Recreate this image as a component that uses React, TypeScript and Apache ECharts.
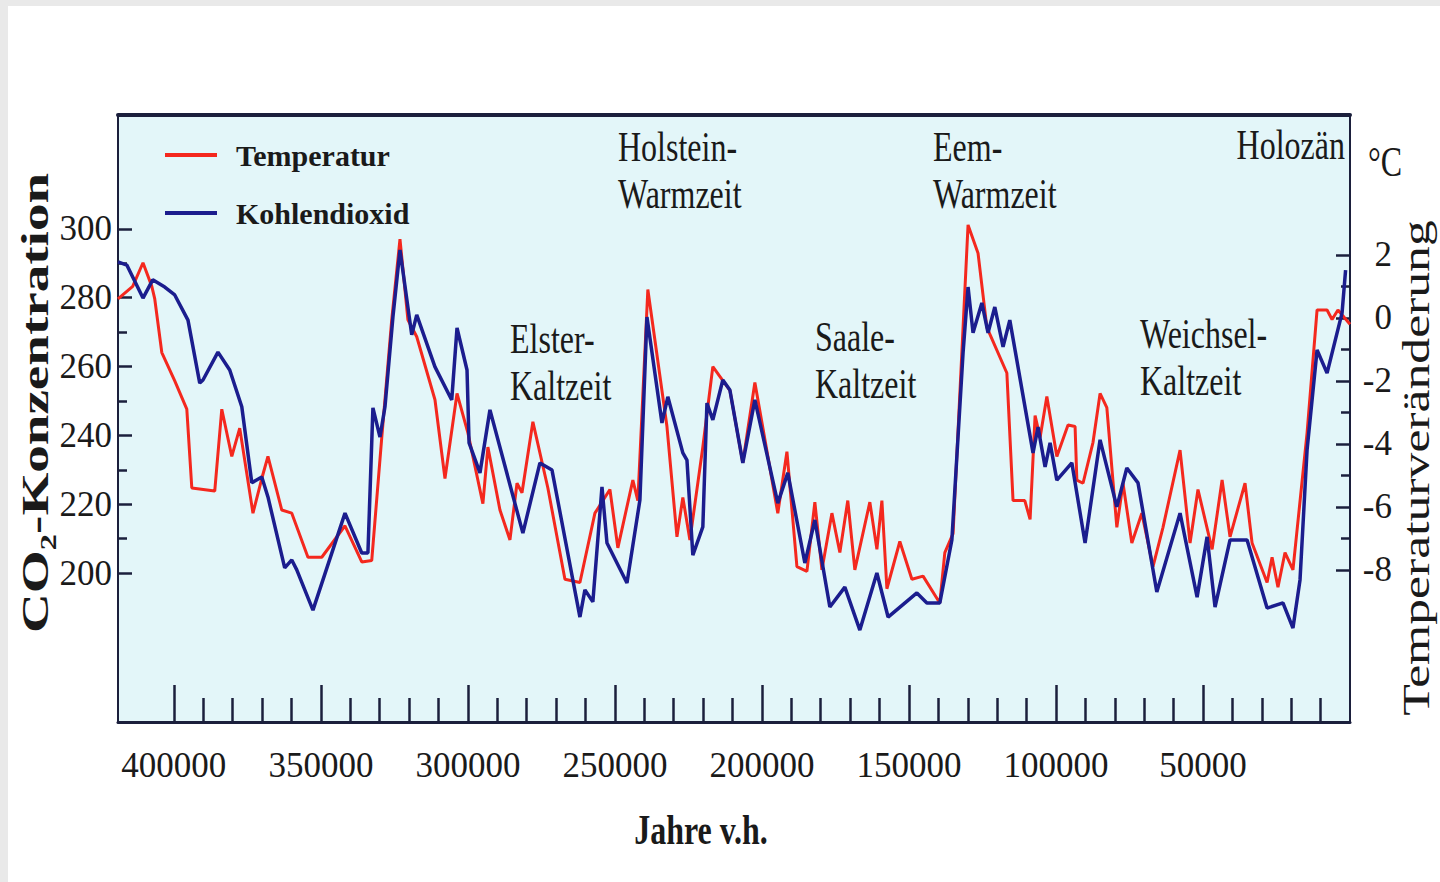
import React, { useEffect, useRef } from "react";
import * as echarts from "echarts";

// ---- data (years before present) ----
const co2Years = [
  419000, 416000, 410500, 407200, 403100, 399700, 395200, 391200, 390100, 385000,
  381000, 376900, 373500, 370100, 368000, 362300, 359900, 358200, 352700, 341800,
  336100, 334000, 332300, 329900, 328200, 325500, 323100, 319100, 317400, 311200,
  305500, 303700, 300300, 299600, 295900, 292500, 281300, 275500, 271400, 261900,
  260200, 257500, 254400, 252700, 245900, 241500, 239100, 234000, 232000, 226900,
  225500, 223500, 220100, 218700, 216700, 213300, 210900, 206500, 202400, 194600,
  191200, 185400, 182000, 176900, 171800, 166700, 160900, 157100, 147300, 143900,
  139500, 135400, 131600, 129900, 128200, 125200, 123100, 120800, 118000, 115700,
  107800, 106100, 103700, 102000, 99700, 94600, 90100, 85000, 79300, 75900,
  72100, 65700, 57800, 52000, 48600, 45900, 40800, 35000, 28200, 22800,
  19400, 17000, 14600, 11200, 7800, 2700, 1500,
];
const co2Ppm = [
  290.4, 289.5, 279.9, 285.2, 283.1, 280.8, 273.5, 255.2, 256.1, 264.2,
  259.0, 248.3, 226.2, 227.9, 222.1, 201.5, 203.8, 200.9, 189.2, 217.4,
  205.8, 205.8, 248.0, 239.5, 248.3, 274.4, 293.9, 269.2, 275.0, 259.9,
  250.3, 271.2, 259.0, 237.8, 229.1, 247.4, 211.6, 232.0, 229.9, 187.2,
  195.1, 191.6, 225.0, 208.7, 197.1, 221.2, 274.4, 243.6, 251.2, 234.9,
  232.8, 205.2, 213.4, 249.4, 244.5, 256.1, 253.2, 232.0, 250.3, 220.3,
  229.1, 202.9, 215.4, 190.1, 195.9, 183.4, 200.0, 187.2, 194.2, 191.3,
  191.3, 209.6, 264.0, 283.1, 269.8, 278.5, 269.8, 277.3, 265.7, 273.5,
  234.9, 242.4, 230.8, 237.8, 227.0, 232.0, 208.7, 238.7, 219.2, 230.5,
  226.2, 194.5, 217.4, 193.0, 210.5, 190.1, 209.6, 209.6, 189.8, 191.3,
  184.0, 198.0, 235.8, 264.8, 258.1, 275.6, 288.0,
];

const tempYears = [
  419000, 414000, 410500, 407500, 406500, 404100, 399700, 395600, 393900, 386100,
  383700, 380300, 377600, 373100, 370100, 368000, 363300, 359900, 354400, 349700,
  341800, 336100, 332700, 329300, 325900, 323100, 320400, 317400, 311200, 307800,
  303700, 300000, 294900, 293200, 289100, 285700, 283300, 281600, 277900, 272800,
  267000, 261900, 256800, 251700, 249000, 243900, 242200, 238800, 232300, 228900,
  226900, 224500, 220100, 216700, 213600, 210900, 206500, 202400, 194600, 191500,
  188100, 184700, 182000, 179600, 176200, 173500, 170800, 168400, 163300, 160900,
  159200, 157500, 153100, 149000, 145200, 139500, 137800, 135000, 129900, 126500,
  123500, 116700, 114600, 110600, 108800, 107100, 105400, 103100, 99700, 95900,
  93500, 92900, 90800, 87400, 85000, 82700, 79300, 77200, 74200, 70800,
  67000, 63600, 57800, 54400, 51700, 46900, 43500, 40800, 35700, 33300,
  28200, 26500, 24500, 22100, 19400, 14600, 11200, 7800, 6100, 4100,
  0,
];
const tempDelta = [
  0.6, 1.0, 1.75, 1.0, 0.6, -1.1, -2.0, -2.9, -5.4, -5.5,
  -2.9, -4.4, -3.5, -6.2, -5.1, -4.4, -6.1, -6.2, -7.6, -7.6,
  -6.6, -7.75, -7.7, -3.8, -0.06, 2.5, -0.06, -0.6, -2.6, -5.1,
  -2.4, -3.65, -5.9, -4.1, -6.1, -7.05, -5.25, -5.55, -3.3, -5.4,
  -8.3, -8.4, -6.2, -5.45, -7.3, -5.15, -5.8, 0.9, -3.45, -6.95,
  -5.7, -7.05, -4.1, -1.55, -1.95, -2.3, -4.6, -2.05, -6.2, -4.25,
  -7.9, -8.05, -5.85, -8.0, -6.2, -7.45, -5.8, -8.0, -5.85, -7.35,
  -5.8, -8.6, -7.1, -8.3, -8.2, -9.05, -7.45, -6.85, 2.95, 2.05,
  -0.3, -1.75, -5.8, -5.8, -6.4, -3.1, -3.8, -2.5, -4.4, -3.4,
  -3.45, -5.15, -5.25, -3.95, -2.4, -2.85, -6.65, -5.25, -7.15, -6.2,
  -7.9, -6.65, -4.2, -7.15, -5.45, -7.35, -5.15, -6.95, -5.25, -7.15,
  -8.4, -7.6, -8.55, -7.45, -8.0, -3.65, 0.25, 0.25, -0.05, 0.25,
  -0.2,
];

// ---- ticks ----
const xMajorTicks = [400000, 350000, 300000, 250000, 200000, 150000, 100000, 50000];
const xMinorTicks = [
  390000, 380000, 370000, 360000, 340000, 330000, 320000, 310000, 290000, 280000,
  270000, 260000, 240000, 230000, 220000, 210000, 190000, 180000, 170000, 160000,
  140000, 130000, 120000, 110000, 90000, 80000, 70000, 60000, 40000, 30000, 20000, 10000,
];
const co2MajorTicks = [200, 220, 240, 260, 280, 300];
const co2MinorTicks = [210, 230, 250, 270, 290];
const tempMajorTicks = [-8, -6, -4, -2, 0, 2];
const tempMinorTicks = [-7, -5, -3, -1, 1];

// ---- labels ----
const seriesNames = ["Temperatur", "Kohlendioxid"];
const periodLabels = [
  { text: "Holstein-\nWarmzeit", x: 618, y: 124 },
  { text: "Eem-\nWarmzeit", x: 933, y: 124 },
  { text: "Elster-\nKaltzeit", x: 510, y: 316 },
  { text: "Saale-\nKaltzeit", x: 815, y: 314 },
  { text: "Weichsel-\nKaltzeit", x: 1140, y: 311 },
];

const SERIF = "'Liberation Serif', 'Times New Roman', serif";
const INK = "#1a1a1a";
const FRAME = "#1b1f3c";
const RED = "#f4281e";
const BLUE = "#1b1d8e";

const X_MIN = 0;
const X_MAX = 419000;
const CO2_MIN = 156.7;
const CO2_MAX = 333.1;
const T_MIN = -12.83;
const T_MAX = 6.44;

export default function App() {
  const ref = useRef<HTMLDivElement>(null);

  useEffect(() => {
    if (!ref.current) return;
    const chart = echarts.init(ref.current, undefined, { renderer: "svg" });

    const co2Data = co2Years.map((y, i) => [y, co2Ppm[i]]);
    const tempData = tempYears.map((y, i) => [y, tempDelta[i]]);

    const xBase = {
      type: "value",
      min: X_MIN,
      max: X_MAX,
      inverse: true,
      gridIndex: 0,
      splitLine: { show: false },
    };
    const hidden = { show: false };
    const hiddenLine = { show: false, onZero: false };

    const graphics: any[] = [
      { type: "rect", shape: { x: 0, y: 0, width: 1440, height: 6 }, style: { fill: "#e9e9e9" }, silent: true },
      { type: "rect", shape: { x: 0, y: 0, width: 8, height: 882 }, style: { fill: "#e9e9e9" }, silent: true },
    ];
    periodLabels.forEach((p) => {
      graphics.push({
        type: "text",
        x: p.x,
        y: p.y,
        scaleY: 1.3,
        z: 10,
        style: {
          text: p.text,
          font: `32px ${SERIF}`,
          fill: INK,
          lineHeight: 36,
          align: "left",
          textAlign: "left",
          verticalAlign: "top",
          textVerticalAlign: "top",
        },
      });
    });
    graphics.push(
      {
        type: "text",
        x: 1345,
        y: 145,
        scaleY: 1.3,
        z: 10,
        style: {
          text: "Holozän",
          font: `32px ${SERIF}`,
          fill: INK,
          align: "right",
          textAlign: "right",
          verticalAlign: "middle",
          textVerticalAlign: "middle",
        },
      },
      {
        type: "text",
        x: 1368,
        y: 162,
        scaleY: 1.3,
        z: 10,
        style: {
          text: "°C",
          font: `32px ${SERIF}`,
          fill: INK,
          align: "left",
          textAlign: "left",
          verticalAlign: "middle",
          textVerticalAlign: "middle",
        },
      },
      {
        type: "text",
        x: 701,
        y: 830,
        scaleY: 1.3,
        z: 10,
        style: {
          text: "Jahre v.h.",
          font: `bold 32px ${SERIF}`,
          fill: INK,
          align: "center",
          textAlign: "center",
          verticalAlign: "middle",
          textVerticalAlign: "middle",
        },
      },
      {
        type: "text",
        x: 35,
        y: 403,
        rotation: Math.PI / 2,
        scaleX: 1.45,
        z: 10,
        style: {
          text: "CO₂-Konzentration",
          font: `bold 38px ${SERIF}`,
          fill: INK,
          align: "center",
          textAlign: "center",
          verticalAlign: "middle",
          textVerticalAlign: "middle",
        },
      },
      {
        type: "text",
        x: 1416,
        y: 468,
        rotation: Math.PI / 2,
        scaleX: 1.36,
        z: 10,
        style: {
          text: "Temperaturveränderung",
          font: `38px ${SERIF}`,
          fill: INK,
          align: "center",
          textAlign: "center",
          verticalAlign: "middle",
          textVerticalAlign: "middle",
        },
      }
    );

    chart.setOption({
      animation: false,
      backgroundColor: "#ffffff",
      grid: {
        left: 118,
        top: 115,
        width: 1232,
        height: 607,
        show: true,
        backgroundColor: "#e3f6f9",
        borderColor: FRAME,
        borderWidth: 2,
      },
      legend: {
        data: seriesNames,
        orient: "vertical",
        left: 160,
        top: 134,
        itemWidth: 52,
        itemHeight: 4,
        itemGap: 26,
        icon: "rect",
        textStyle: {
          fontFamily: SERIF,
          fontSize: 30,
          fontWeight: "bold",
          color: INK,
          lineHeight: 32,
          padding: [0, 0, 0, 14],
        },
      },
      xAxis: [
        {
          ...xBase,
          position: "bottom",
          axisLine: { show: true, onZero: false, lineStyle: { color: FRAME, width: 3 } },
          axisTick: {
            show: true,
            inside: true,
            length: 37,
            customValues: xMajorTicks,
            lineStyle: { color: FRAME, width: 2.5 },
          },
          axisLabel: {
            show: true,
            customValues: xMajorTicks,
            formatter: (v: number) => String(v),
            fontFamily: SERIF,
            fontSize: 35,
            color: INK,
            margin: 26,
          },
        },
        {
          ...xBase,
          position: "bottom",
          axisLine: hiddenLine,
          axisTick: {
            show: true,
            inside: true,
            length: 24,
            customValues: xMinorTicks,
            lineStyle: { color: FRAME, width: 2.5 },
          },
          axisLabel: hidden,
        },
        {
          ...xBase,
          position: "top",
          axisLine: { show: true, onZero: false, lineStyle: { color: FRAME, width: 4 } },
          axisTick: hidden,
          axisLabel: hidden,
        },
      ],
      yAxis: [
        {
          type: "value",
          position: "left",
          min: CO2_MIN,
          max: CO2_MAX,
          splitLine: hidden,
          axisLine: { show: true, onZero: false, lineStyle: { color: FRAME, width: 2 } },
          axisTick: {
            show: true,
            inside: true,
            length: 14,
            customValues: co2MajorTicks,
            lineStyle: { color: FRAME, width: 2.5 },
          },
          axisLabel: {
            show: true,
            customValues: co2MajorTicks,
            formatter: (v: number) => String(v),
            fontFamily: SERIF,
            fontSize: 35,
            color: INK,
            margin: 6,
          },
        },
        {
          type: "value",
          position: "right",
          min: T_MIN,
          max: T_MAX,
          splitLine: hidden,
          axisLine: { show: true, onZero: false, lineStyle: { color: FRAME, width: 2 } },
          axisTick: {
            show: true,
            inside: true,
            length: 14,
            customValues: tempMajorTicks,
            lineStyle: { color: FRAME, width: 2.5 },
          },
          axisLabel: {
            show: true,
            customValues: tempMajorTicks,
            formatter: (v: number) => String(v),
            fontFamily: SERIF,
            fontSize: 35,
            color: INK,
            align: "right",
            margin: 42,
          },
        },
        {
          type: "value",
          position: "left",
          min: CO2_MIN,
          max: CO2_MAX,
          splitLine: hidden,
          axisLine: hiddenLine,
          axisTick: {
            show: true,
            inside: true,
            length: 9,
            customValues: co2MinorTicks,
            lineStyle: { color: FRAME, width: 2.5 },
          },
          axisLabel: hidden,
        },
        {
          type: "value",
          position: "right",
          min: T_MIN,
          max: T_MAX,
          splitLine: hidden,
          axisLine: hiddenLine,
          axisTick: {
            show: true,
            inside: true,
            length: 9,
            customValues: tempMinorTicks,
            lineStyle: { color: FRAME, width: 2.5 },
          },
          axisLabel: hidden,
        },
      ],
      series: [
        {
          name: seriesNames[0],
          type: "line",
          xAxisIndex: 0,
          yAxisIndex: 1,
          data: tempData,
          symbol: "none",
          showSymbol: false,
          lineStyle: { color: RED, width: 3 },
          itemStyle: { color: RED },
          z: 2,
        },
        {
          name: seriesNames[1],
          type: "line",
          xAxisIndex: 0,
          yAxisIndex: 0,
          data: co2Data,
          symbol: "none",
          showSymbol: false,
          lineStyle: { color: BLUE, width: 3.5 },
          itemStyle: { color: BLUE },
          z: 3,
        },
      ],
      graphic: graphics,
    });

    return () => chart.dispose();
  }, []);

  return (
    <div
      ref={ref}
      style={{ position: "fixed", left: 0, top: 0, width: 1440, height: 882, background: "#fff" }}
    />
  );
}
